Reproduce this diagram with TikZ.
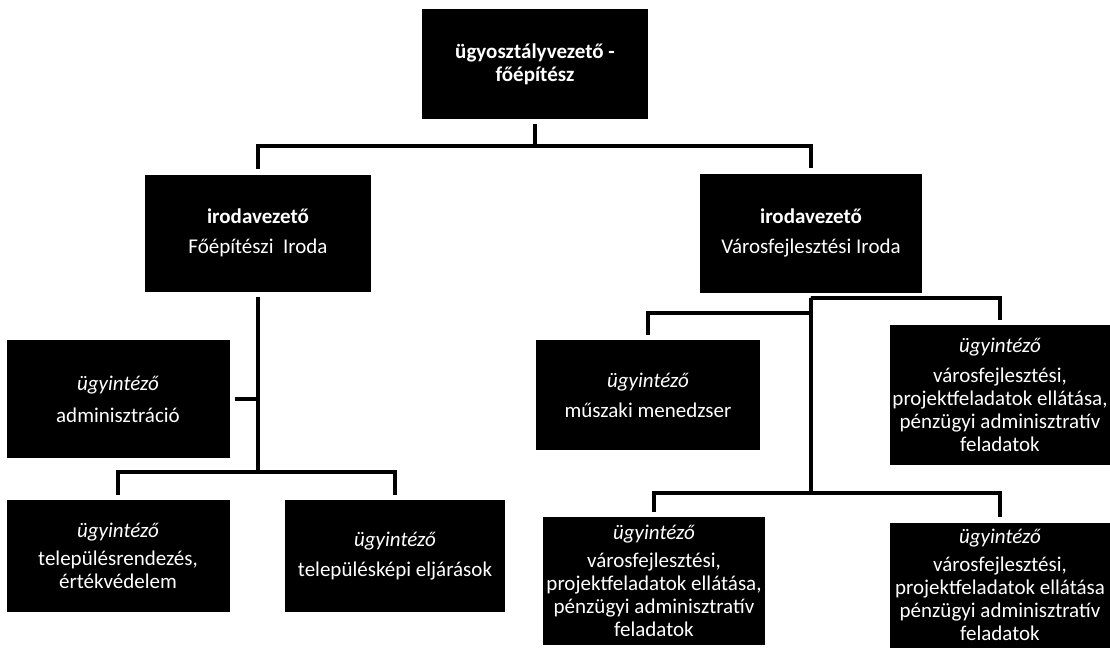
\documentclass[tikz,border=0pt]{standalone}
\usepackage{fontspec}
\setmainfont{Carlito}
\begin{document}
\begin{tikzpicture}[x=1pt,y=-1pt,
  box/.style={rectangle, fill=black, text=white, inner sep=0pt, align=center,
    font=\fontsize{21}{23}\selectfont},
  conn/.style={line width=4.5pt, draw=black, line join=miter},
  gap/.style={shorten <=5pt, shorten >=5pt}]
\fill[white] (0,0) rectangle (1110,649);
\useasboundingbox (0,0) rectangle (1110,649);

% nodes
\node[box, minimum width=226pt, minimum height=110pt] (top) at (535,64)
  {\textbf{ügyosztályvezető -}\\\textbf{főépítész}};
\node[box, minimum width=226pt, minimum height=117pt] (lbox) at (258,233)
  {\textbf{irodavezető}\\[7pt]Főépítészi~ Iroda};
\node[box, minimum width=222pt, minimum height=119pt] (rbox) at (811,233)
  {\textbf{irodavezető}\\[7pt]Városfejlesztési Iroda};
\node[box, minimum width=223pt, minimum height=118pt] (adm) at (118,399)
  {\textit{ügyintéző}\\[9pt]adminisztráció};
\node[box, minimum width=223pt, minimum height=112pt] (bl1) at (118,556)
  {\textit{ügyintéző}\\[5pt]településrendezés,\\értékvédelem};
\node[box, minimum width=220pt, minimum height=112pt] (bl2) at (395,556)
  {\textit{ügyintéző}\\[7pt]településképi eljárások};
\node[box, minimum width=224pt, minimum height=110pt] (mus) at (648,395)
  {\textit{ügyintéző}\\[7pt]műszaki menedzser};
\node[box, minimum width=220pt, minimum height=140pt] (rt) at (1000,395)
  {\textit{ügyintéző}\\[7pt]városfejlesztési,\\projektfeladatok ellátása,\\pénzügyi adminisztratív\\feladatok};
\node[box, minimum width=222pt, minimum height=128pt] (rbl) at (654,581)
  {\textit{ügyintéző}\\[5pt]városfejlesztési,\\projektfeladatok ellátása,\\pénzügyi adminisztratív\\feladatok};
\node[box, minimum width=220pt, minimum height=125pt] (rbr) at (1000,585)
  {\textit{ügyintéző}\\[5pt]városfejlesztési,\\projektfeladatok ellátása\\pénzügyi adminisztratív\\feladatok};

% junction coordinates
\coordinate (b0) at (535,146);
\coordinate (b1) at (258,472);
\coordinate (b2) at (811,298);
\coordinate (b3) at (811,313);
\coordinate (b4) at (811,493);

% connectors
\draw[conn, gap] (top) -- (top |- b0) -| (lbox);
\draw[conn, gap] (top) -- (top |- b0) -| (rbox);

\draw[conn, gap] (lbox) -- (lbox |- b1) -| (bl1);
\draw[conn, gap] (lbox) -- (lbox |- b1) -| (bl2);
\draw[conn, shorten <=5pt] (adm) -- (adm -| lbox);

\draw[conn, gap] (rbox) -- (rbox |- b2) -| (rt);
\draw[conn, gap] (rbox) -- (rbox |- b3) -| (mus);
\draw[conn, gap] (rbox) -- (rbox |- b4) -| (rbl);
\draw[conn, gap] (rbox) -- (rbox |- b4) -| (rbr);
\end{tikzpicture}
\end{document}
